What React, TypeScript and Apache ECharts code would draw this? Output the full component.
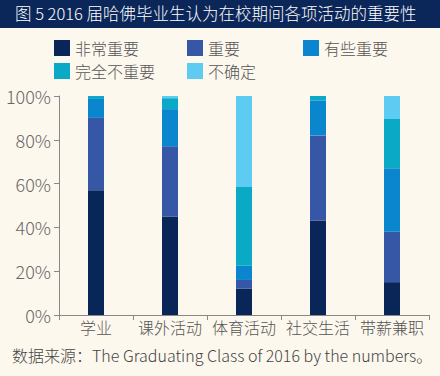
import React, { useEffect, useRef } from "react";
import * as echarts from "echarts";

const categories = ["学业", "课外活动", "体育活动", "社交生活", "带薪兼职"];
const seriesNames = ["非常重要", "重要", "有些重要", "完全不重要", "不确定"];
const veryImportant = [57, 45, 12, 43, 15];
const important = [33, 32, 4, 39, 23];
const somewhat = [9, 17, 6.5, 16, 29];
const notAtAll = [1, 5, 36, 2, 22.5];
const unsure = [0, 1, 41.5, 0, 10.5];
const colors = ["#0a2558", "#3557a5", "#0a86cf", "#0aaac6", "#5ecbf3"];
const yTicks = [0, 20, 40, 60, 80, 100];

const FONT = '"Noto Sans CJK SC", "Noto Sans", sans-serif';
const W = 300;

export default function App() {
  const ref = useRef<HTMLDivElement>(null);
  useEffect(() => {
    if (!ref.current) return;
    const chart = echarts.init(ref.current, null, { renderer: "svg" });
    const values = [veryImportant, important, somewhat, notAtAll, unsure];
    const legendText = { fontSize: 16, color: "#555", fontFamily: FONT, fontWeight: W };
    const legendBase = {
      orient: "vertical" as const,
      top: 40,
      itemWidth: 16,
      itemHeight: 16,
      itemGap: 7,
      icon: "rect",
      padding: 0,
      textStyle: legendText,
      selectedMode: false,
    };
    chart.setOption({
      animation: false,
      backgroundColor: "#fdf8ee",
      color: colors,
      textStyle: { fontFamily: FONT },
      graphic: [
        {
          type: "rect",
          left: 0,
          top: 0,
          shape: { width: 440, height: 28 },
          style: { fill: "#0b2658" },
        },
        {
          type: "text",
          left: 15,
          top: 5,
          style: {
            text: "图 5 2016 届哈佛毕业生认为在校期间各项活动的重要性",
            fill: "#ffffff",
            fontSize: 16.5,
            fontWeight: W,
            fontFamily: FONT,
          },
        },
        {
          type: "text",
          left: 12,
          top: 347,
          style: {
            text: "数据来源：The Graduating Class of 2016 by the numbers。",
            fill: "#444",
            fontSize: 16,
            fontWeight: W,
            fontFamily: FONT,
          },
        },
      ],
      legend: [
        { ...legendBase, left: 54, data: ["非常重要", "完全不重要"] },
        { ...legendBase, left: 187, data: ["重要", "不确定"] },
        { ...legendBase, left: 303, data: ["有些重要"] },
      ],
      grid: { left: 59, right: 11, top: 96, bottom: 61 },
      xAxis: {
        type: "category",
        data: categories,
        axisLine: { lineStyle: { color: "#888", width: 1 } },
        axisTick: { show: true, length: 5, lineStyle: { color: "#888" } },
        axisLabel: {
          interval: 0,
          fontSize: 16,
          color: "#555",
          margin: 4,
          fontFamily: FONT,
          fontWeight: W,
        },
      },
      yAxis: {
        type: "value",
        min: yTicks[0],
        max: yTicks[yTicks.length - 1],
        interval: 20,
        axisLine: { show: true, lineStyle: { color: "#888", width: 1 } },
        axisTick: { show: true, length: 5, lineStyle: { color: "#888" } },
        splitLine: { show: false },
        axisLabel: {
          formatter: "{value}%",
          fontSize: 18,
          color: "#666",
          margin: 8,
          fontFamily: FONT,
          fontWeight: W,
        },
      },
      series: seriesNames.map((name, i) => ({
        name,
        type: "bar",
        stack: "total",
        barWidth: 16,
        data: values[i],
        itemStyle: { color: colors[i] },
      })),
    });
    return () => chart.dispose();
  }, []);
  return (
    <div
      ref={ref}
      style={{ position: "absolute", left: 0, top: 0, width: 440, height: 376 }}
    />
  );
}
